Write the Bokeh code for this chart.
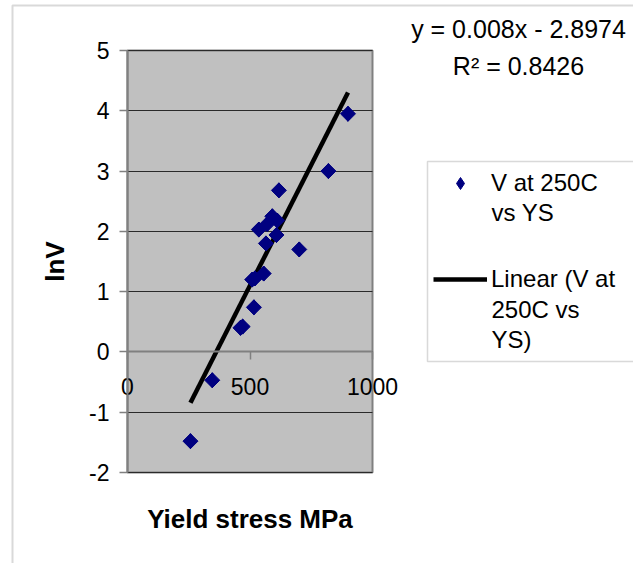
from bokeh.plotting import figure
from bokeh.models import Range1d, Label, Legend, LegendItem, FixedTicker, BoxAnnotation
from bokeh.embed import file_html
from bokeh.resources import INLINE
import numpy as np

# Data
yield_stress = [257, 346, 461, 470, 509, 516, 520, 536, 556, 565, 570, 591, 608, 611, 618, 701, 820, 900]
ln_v = [-1.48, -0.47, 0.40, 0.42, 1.20, 0.74, 1.22, 2.03, 1.30, 1.80, 2.12, 2.25, 1.94, 2.18, 2.68, 1.70, 3.00, 3.95]

# Trendline coefficients (as displayed)
slope = 0.008
intercept = -2.8974

x_ticks = [0, 500, 1000]
y_ticks = [-2, -1, 0, 1, 2, 3, 4, 5]

series_label = ["V at 250C", "vs YS"]
trend_label = ["Linear (V at", "250C vs", "YS)"]

FONT = "Liberation Sans"
NAVY = "#000080"

# layout: canvas size and pixel box of the plot area
W, H = 633, 563
PL, PR, PT, PB = 127, 372, 50, 472
x0, x1 = x_ticks[0], x_ticks[-1]
y0, y1 = y_ticks[0], y_ticks[-1]
sx = (PR - PL) / (x1 - x0)
sy = (PB - PT) / (y1 - y0)
xr = Range1d(x0 - PL / sx, x1 + (W - PR) / sx)
yr = Range1d(y0 - (H - PB) / sy, y1 + PT / sy)


def px(xp, yp):
    return xr.start + xp / sx, yr.end - yp / sy


p = figure(width=W, height=H, output_backend="svg", toolbar_location=None,
           x_range=xr, y_range=yr, min_border=0)
p.background_fill_color = "white"
p.border_fill_color = "white"
p.outline_line_color = None

# outer chart border (left and top visible)
bl, bt = px(12, 5)
br, bb = px(W + 20, H + 20)
p.add_layout(BoxAnnotation(left=bl, right=br, top=bt, bottom=bb, fill_alpha=0,
                           line_color="#808080", line_width=2, level="underlay"))

# plot area
p.quad(left=x0, right=x1, bottom=y0, top=y1, fill_color="#c0c0c0",
       line_color="#808080", line_width=2, level="image")

p.xgrid.visible = False
p.ygrid.ticker = FixedTicker(ticks=y_ticks)
p.ygrid.bounds = (y0, y1)
p.ygrid.cross_bounds = (x0, x1)
p.ygrid.grid_line_color = "#2a2a2a"
p.ygrid.grid_line_width = 1

for ax in (p.xaxis[0], p.yaxis[0]):
    ax.fixed_location = 0
    ax.axis_line_color = "#808080"
    ax.axis_line_width = 2
    ax.major_tick_line_color = "#808080"
    ax.major_tick_line_width = 1.5
    ax.major_tick_in = 0
    ax.major_tick_out = 8
    ax.minor_tick_line_color = None
    ax.major_label_text_font = FONT
    ax.major_label_text_font_size = "23px"
    ax.major_label_text_color = "black"
    ax.axis_label_text_font = FONT
    ax.axis_label_text_font_size = "26px"
    ax.axis_label_text_font_style = "bold"
    ax.axis_label_text_color = "black"

p.yaxis.ticker = FixedTicker(ticks=y_ticks)
p.yaxis.bounds = (y0, y1)
p.yaxis.major_label_standoff = 10
p.yaxis.major_label_overrides = {t: str(t) for t in y_ticks}
p.yaxis.axis_label = "lnV"
p.yaxis.axis_label_standoff = 16

p.xaxis.ticker = FixedTicker(ticks=x_ticks)
p.xaxis.bounds = (x0, x1)
p.xaxis.major_label_standoff = 18
p.xaxis.axis_label = "Yield stress MPa"
p.xaxis.axis_label_standoff = 106

# trendline over the data extent
tx = np.array([min(yield_stress), max(yield_stress)], dtype=float)
ty = slope * tx + intercept
ln = p.line(tx, ty, line_color="black", line_width=4.5)

# diamond used for the legend key (hidden under the square-diamond markers)
dm = p.scatter(yield_stress, ln_v, marker="diamond", size=15, fill_color=NAVY, line_color=NAVY)
sc = p.scatter(yield_stress, ln_v, marker="square", angle=np.pi / 4, size=10.6,
               fill_color=NAVY, line_color=NAVY)

# legend box
lbl, lbt = px(427, 161)
lbr, lbb = px(W + 30, 361)
p.add_layout(BoxAnnotation(left=lbl, right=lbr, top=lbt, bottom=lbb, fill_color="white", fill_alpha=1,
                           line_color="#808080", line_width=1.5))

legend = Legend(items=[LegendItem(label=series_label[0], renderers=[dm]),
                       LegendItem(label=trend_label[0], renderers=[ln])],
                location=(433, H - 294))
legend.label_text_font = FONT
legend.label_text_font_size = "24px"
legend.label_text_color = "black"
legend.border_line_color = None
legend.background_fill_alpha = 0
legend.glyph_width = 54
legend.glyph_height = 30
legend.label_height = 30
legend.label_standoff = 4
legend.padding = 0
legend.spacing = 66
legend.margin = 0
p.add_layout(legend)

for txt, yp in [(series_label[1], 212), (trend_label[1], 309), (trend_label[2], 339)]:
    lx, ly = px(491, yp)
    p.add_layout(Label(x=lx, y=ly, text=txt, text_font=FONT, text_font_size="24px",
                       text_align="left", text_baseline="middle", text_color="black"))

ex, ey = px(518, 28)
rx, ry = px(518, 65)
p.add_layout(Label(x=ex, y=ey, text="y = 0.008x - 2.8974", text_font=FONT, text_font_size="25px",
                   text_align="center", text_baseline="middle", text_color="black"))
p.add_layout(Label(x=rx, y=ry, text="R\u00b2 = 0.8426", text_font=FONT, text_font_size="25px",
                   text_align="center", text_baseline="middle", text_color="black"))

open("out.html", "w").write(file_html(p, INLINE))
